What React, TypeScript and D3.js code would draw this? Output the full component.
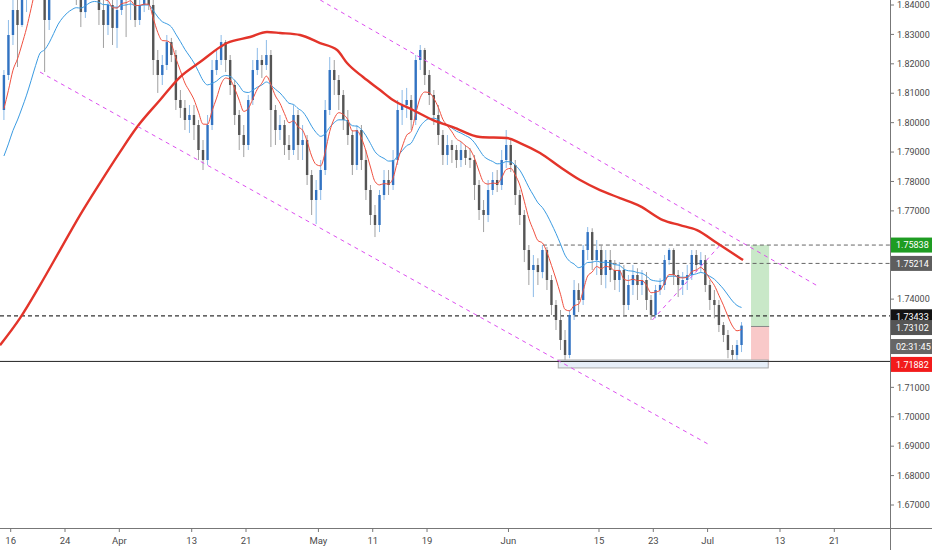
import React, { useMemo } from "react";
import * as d3 from "d3";

const width = 932;
const height = 550;
const plotRight = 890;
const plotBottom = 528;
const font = "Roboto, 'Liberation Sans', sans-serif";

// 12h bars, two per trading day; day 0 = Mar 16
const firstDay = -1;
const firstOpen = 1.8043;
const closes = [
  1.8162, 1.8298, 1.8383, 1.8332, 1.8417, 1.8485, 1.8587, 1.8655, 1.8621, 1.8349,
  1.8485, 1.8587, 1.8621, 1.8553, 1.8519, 1.8485, 1.8451, 1.8376, 1.8468, 1.8502,
  1.8451, 1.8383, 1.8332, 1.84, 1.8322, 1.8383, 1.8451, 1.8417, 1.8434, 1.8349,
  1.84, 1.8417, 1.84, 1.8213, 1.8162, 1.8196, 1.8274, 1.823, 1.8077, 1.805,
  1.8009, 1.8026, 1.7992, 1.7907, 1.7873, 1.7992, 1.8179, 1.8213, 1.8274, 1.8213,
  1.8128, 1.8026, 1.7958, 1.7924, 1.8077, 1.8179, 1.8213, 1.8196, 1.823, 1.8043,
  1.7975, 1.7992, 1.7924, 1.7907, 1.8026, 1.7924, 1.7941, 1.7822, 1.7737, 1.7771,
  1.7839, 1.8043, 1.8179, 1.8145, 1.8094, 1.8009, 1.7958, 1.7856, 1.7975, 1.7873,
  1.7771, 1.7686, 1.7652, 1.7754, 1.7805, 1.7788, 1.7873, 1.8043, 1.806, 1.8077,
  1.8009, 1.8213, 1.8247, 1.8162, 1.8094, 1.8026, 1.7958, 1.789, 1.7924, 1.7907,
  1.7873, 1.7907, 1.788, 1.7873, 1.7788, 1.7703, 1.7686, 1.7771, 1.7805, 1.7788,
  1.7873, 1.7924, 1.7856, 1.7754, 1.7686, 1.7567, 1.7499, 1.7516, 1.7492, 1.7567,
  1.7465, 1.738, 1.7329, 1.7261, 1.721, 1.7346, 1.7431, 1.7397, 1.7567, 1.7628,
  1.7533, 1.7567, 1.7482, 1.7533, 1.7499, 1.7465, 1.7499, 1.738, 1.7448, 1.7482,
  1.7448, 1.7465, 1.7397, 1.7346, 1.7431, 1.7448, 1.7533, 1.7567, 1.7482, 1.7448,
  1.7465, 1.7482, 1.755, 1.7516, 1.7533, 1.7448, 1.7397, 1.738, 1.7312, 1.7278,
  1.7227, 1.721, 1.7244, 1.731,
];
const highs = [
  1.8179, 1.8349, 1.8434, 1.8434, 1.8468, 1.8553, 1.8655, 1.8757, 1.8791, 1.8689,
  1.8553, 1.8655, 1.8723, 1.8689, 1.8621, 1.8587, 1.8553, 1.8485, 1.8536, 1.8587,
  1.8553, 1.8485, 1.8434, 1.8451, 1.8434, 1.8417, 1.8502, 1.8485, 1.8485, 1.8468,
  1.8451, 1.8468, 1.8451, 1.8417, 1.8247, 1.823, 1.8298, 1.8288, 1.8247, 1.8111,
  1.8077, 1.806, 1.806, 1.8009, 1.7941, 1.8026, 1.8213, 1.8247, 1.8298, 1.8281,
  1.823, 1.8145, 1.8043, 1.7992, 1.8094, 1.8213, 1.8254, 1.823, 1.8281, 1.8247,
  1.806, 1.8026, 1.8009, 1.7958, 1.806, 1.8043, 1.7992, 1.7958, 1.7839, 1.7805,
  1.7873, 1.8077, 1.8223, 1.8213, 1.8162, 1.8111, 1.8043, 1.7975, 1.7992, 1.7992,
  1.7907, 1.7788, 1.772, 1.7771, 1.7839, 1.7839, 1.7907, 1.8077, 1.8111, 1.8118,
  1.8094, 1.823, 1.8264, 1.8254, 1.8179, 1.8111, 1.806, 1.7975, 1.7958, 1.7941,
  1.7924, 1.7934, 1.7924, 1.7914, 1.789, 1.7805, 1.7737, 1.7805, 1.7832, 1.7839,
  1.7907, 1.7975, 1.7941, 1.7873, 1.7771, 1.7703, 1.7584, 1.755, 1.7539, 1.7584,
  1.7577, 1.7482, 1.7397, 1.7363, 1.7295, 1.7363, 1.7465, 1.7454, 1.7584, 1.7645,
  1.7641, 1.7601, 1.7584, 1.7567, 1.7567, 1.7533, 1.7526, 1.7516, 1.7482, 1.7516,
  1.7505, 1.7499, 1.7492, 1.7414, 1.7448, 1.7471, 1.755, 1.7573, 1.7573, 1.7499,
  1.7492, 1.7516, 1.7567, 1.7567, 1.756, 1.755, 1.7465, 1.7431, 1.7397, 1.7322,
  1.7295, 1.7244, 1.7261, 1.7322,
];
const lows = [
  1.8009, 1.8145, 1.8264, 1.8189, 1.8325, 1.8376, 1.8451, 1.8553, 1.8519, 1.8172,
  1.8315, 1.8451, 1.8519, 1.8485, 1.8451, 1.8434, 1.84, 1.8325, 1.8356, 1.8434,
  1.8417, 1.8332, 1.8254, 1.8298, 1.8264, 1.8254, 1.8366, 1.8291, 1.8349, 1.8325,
  1.8332, 1.8376, 1.8383, 1.8162, 1.8101, 1.8128, 1.8179, 1.8206, 1.8043, 1.8016,
  1.7975, 1.7965, 1.7941, 1.7873, 1.7839, 1.7856, 1.7975, 1.8162, 1.8196, 1.8172,
  1.8094, 1.7992, 1.7907, 1.7883, 1.7907, 1.806, 1.8162, 1.8152, 1.8179, 1.7917,
  1.7924, 1.7941, 1.789, 1.7873, 1.789, 1.7873, 1.7873, 1.7788, 1.7686, 1.7655,
  1.7737, 1.7822, 1.8026, 1.8094, 1.8043, 1.7975, 1.7924, 1.7822, 1.7839, 1.7839,
  1.7737, 1.7652, 1.7611, 1.7628, 1.7737, 1.7754, 1.7771, 1.7856, 1.7992, 1.8016,
  1.7975, 1.7992, 1.8179, 1.8128, 1.806, 1.7992, 1.7924, 1.7856, 1.7856, 1.7863,
  1.7846, 1.7849, 1.7856, 1.7846, 1.7737, 1.7669, 1.7628, 1.7662, 1.7754, 1.7764,
  1.7771, 1.7846, 1.7832, 1.772, 1.7652, 1.7526, 1.7448, 1.7407, 1.7448, 1.7471,
  1.7431, 1.7346, 1.7295, 1.7227, 1.7193, 1.7199, 1.7329, 1.7356, 1.738, 1.7533,
  1.7499, 1.7482, 1.7448, 1.7437, 1.7458, 1.7431, 1.7424, 1.7339, 1.7363, 1.7414,
  1.7397, 1.7414, 1.7363, 1.7329, 1.7335, 1.7414, 1.7431, 1.7516, 1.7448, 1.7407,
  1.7414, 1.7431, 1.7465, 1.7492, 1.7492, 1.7424, 1.7363, 1.7335, 1.7288, 1.7254,
  1.7199, 1.7193, 1.7193, 1.722,
];

// x axis (trading day index)
const dayTicks = [0, 6, 12, 20, 26, 34, 40, 46, 55, 65, 71, 77, 85, 91];
const dayTickLabels = ["16", "24", "Apr", "13", "21", "May", "11", "19", "Jun", "15", "23", "Jul", "13", "21"];
const priceTicks = d3.range(167, 185).map((v) => v / 100);

// slow moving average (it needs history before the first bar)
const ma200Days = [
  -1.18, 1.03, 3.24, 5.45, 7.66, 9.86, 12.07, 13.96, 16.5, 18.71, 20.92, 23.9, 26.45, 28.32, 29.76,
  31.97, 34.18, 36.06, 37.16, 38.93, 40.81, 42.24, 44.45, 46.66, 48.87, 51.86, 54.84, 56.28, 58.49,
  60.7, 62.91, 65.11, 67.32, 69.53, 72.07, 73.95, 75.83, 78.04, 80.92,
];
const ma200Values = [
  1.72435, 1.73354, 1.74476, 1.75667, 1.76857, 1.77946, 1.79, 1.7985, 1.80769, 1.81551, 1.82061,
  1.82707, 1.82912, 1.83082, 1.83048, 1.8298, 1.82707, 1.82469, 1.82027, 1.81551, 1.81109, 1.80769,
  1.80429, 1.80088, 1.7985, 1.7951, 1.79476, 1.79306, 1.78966, 1.7849, 1.78048, 1.77707, 1.77435,
  1.77163, 1.76687, 1.76517, 1.76347, 1.75905, 1.75327,
];

// exponential averages, seeded with their values at the left edge
const fastPeriod = 7;
const fastSeed = 1.8009;
const slowPeriod = 19;
const slowSeed = 1.7856;

// drawings
const resistanceTop = 1.75838;
const resistanceTopFrom = 58.8;
const resistanceMid = 1.75214;
const resistanceMidFrom = 66.5;
const entryLevel = 1.73433;
const lastPrice = 1.73102;
const supportLevel = 1.71882;
const countdown = "02:31:45";
const upperChannel = [[34.2, 1.8417], [89.2, 1.7444]];
const lowerChannel = [[3.24, 1.8172], [77.3, 1.6903]];
const innerTrend = [[70.9, 1.7329], [78.4, 1.7584]];
const baseBoxDays = [60.5, 83.7];
const baseBoxPrices = [1.7166, 1.7193];
const positionDays = [81.8, 83.8];
const positionEntry = 1.7307;
const positionTarget = 1.75838;
const positionStop = 1.7176;

const ema = (values: number[], period: number, seed: number) => {
  const k = 2 / (period + 1);
  let prev = seed;
  return values.map((v) => (prev = prev + k * (v - prev)));
};

export default function App() {
  const x = useMemo(() => d3.scaleLinear([0, 91], [10.7, 834.3]), []);
  const y = useMemo(() => d3.scaleLinear([1.67, 1.84], [505, 5]), []);

  const bars = useMemo(
    () =>
      closes.map((c, i) => {
        const o = i === 0 ? firstOpen : closes[i - 1];
        return {
          day: firstDay + Math.floor(i / 2) + 0.25 + 0.5 * (i % 2),
          o,
          c,
          h: Math.max(highs[i], o, c),
          l: Math.min(lows[i], o, c),
        };
      }),
    []
  );

  const line = d3
    .line<number[]>()
    .x((d) => x(d[0]))
    .y((d) => y(d[1]))
    .curve(d3.curveMonotoneX);

  const fast = ema(closes, fastPeriod, fastSeed).map((v, i) => [bars[i].day, v]);
  const slow = ema(closes, slowPeriod, slowSeed).map((v, i) => [bars[i].day, v]);
  const ma200 = ma200Days.map((d, i) => [d, ma200Values[i]]);

  const straight = (pts: number[][]) => `M${x(pts[0][0])},${y(pts[0][1])}L${x(pts[1][0])},${y(pts[1][1])}`;

  const labels = [
    { v: resistanceTop, text: resistanceTop.toFixed(5), bg: "#1e9c22", dy: 0 },
    { v: resistanceMid, text: resistanceMid.toFixed(5), bg: "#5e5e5e", dy: 0 },
    { v: entryLevel, text: entryLevel.toFixed(5), bg: "#131313", dy: 1 },
    { v: lastPrice, text: lastPrice.toFixed(5), bg: "#555555", dy: 2 },
    { v: lastPrice, text: countdown, bg: "#666666", dy: 21 },
    { v: supportLevel, text: supportLevel.toFixed(5), bg: "#f21b1b", dy: 3 },
  ];
  const labelY = labels.map((l) => y(l.v) + l.dy);
  const visibleTicks = priceTicks.filter((p) => labelY.every((ly) => Math.abs(ly - y(p)) > 12));

  return (
    <svg width={width} height={height} style={{ position: "absolute", left: 0, top: 0, background: "#fff" }}>
      <defs>
        <clipPath id="plot">
          <rect x={0} y={0} width={plotRight} height={plotBottom} />
        </clipPath>
      </defs>

      <g clipPath="url(#plot)">
        {/* position tool */}
        <rect
          x={x(positionDays[0])}
          width={x(positionDays[1]) - x(positionDays[0])}
          y={y(positionTarget)}
          height={y(positionEntry) - y(positionTarget)}
          fill="#c9e8c8"
        />
        <rect
          x={x(positionDays[0])}
          width={x(positionDays[1]) - x(positionDays[0])}
          y={y(positionEntry)}
          height={y(positionStop) - y(positionEntry)}
          fill="#f9c9c9"
        />
        <line x1={x(positionDays[0])} x2={x(positionDays[1])} y1={y(positionEntry)} y2={y(positionEntry)} stroke="#888" />

        {/* base box */}
        <rect
          x={x(baseBoxDays[0])}
          width={x(baseBoxDays[1]) - x(baseBoxDays[0])}
          y={y(baseBoxPrices[1])}
          height={y(baseBoxPrices[0]) - y(baseBoxPrices[1])}
          fill="#e6eef8"
          stroke="#a9a9a9"
        />

        {/* horizontal levels */}
        <line x1={x(resistanceTopFrom)} x2={plotRight} y1={y(resistanceTop)} y2={y(resistanceTop)} stroke="#666" strokeDasharray="4,3" />
        <line x1={x(resistanceMidFrom)} x2={plotRight} y1={y(resistanceMid)} y2={y(resistanceMid)} stroke="#666" strokeDasharray="4,3" />
        <line x1={0} x2={plotRight} y1={y(entryLevel)} y2={y(entryLevel)} stroke="#333" strokeWidth={1.3} strokeDasharray="4,3" />
        <line x1={0} x2={plotRight} y1={y(supportLevel)} y2={y(supportLevel)} stroke="#222" />

        {/* candles */}
        {bars.map((b, i) => {
          const up = b.c >= b.o;
          const cx = x(b.day);
          const top = y(Math.max(b.o, b.c));
          const bot = y(Math.min(b.o, b.c));
          return (
            <g key={i}>
              <line x1={cx} x2={cx} y1={y(b.h)} y2={y(b.l)} stroke={up ? "#8dbbe8" : "#a0a0a0"} />
              <rect x={cx - 1.2} width={2.4} y={top} height={Math.max(1, bot - top)} fill={up ? "#3273c2" : "#555555"} />
            </g>
          );
        })}

        {/* averages */}
        <path d={line(slow) || ""} fill="none" stroke="#3a9be2" strokeWidth={1} />
        <path d={line(fast) || ""} fill="none" stroke="#f0503f" strokeWidth={1} />
        <path d={line(ma200) || ""} fill="none" stroke="#e3342a" strokeWidth={2.4} />

        {/* channel */}
        <path d={straight(upperChannel)} stroke="#dd4ff0" strokeDasharray="4,4" fill="none" />
        <path d={straight(lowerChannel)} stroke="#dd4ff0" strokeDasharray="4,4" fill="none" />
        <path d={straight(innerTrend)} stroke="#dd4ff0" strokeDasharray="4,4" fill="none" />
      </g>

      {/* axes */}
      <line x1={plotRight + 0.5} x2={plotRight + 0.5} y1={0} y2={height} stroke="#777" />
      <line x1={0} x2={width} y1={plotBottom + 0.5} y2={plotBottom + 0.5} stroke="#777" />

      {priceTicks.map((p) => (
        <line key={p} x1={plotRight} x2={plotRight + 4} y1={y(p)} y2={y(p)} stroke="#777" />
      ))}
      {visibleTicks.map((p) => (
        <text key={p} x={plotRight + 7} y={y(p)} dy="0.35em" fontSize={9} fontFamily={font} fill="#4a4a4a">
          {p.toFixed(5)}
        </text>
      ))}

      {dayTicks.map((d, i) => (
        <g key={d} transform={`translate(${x(d)},${plotBottom})`}>
          <line y1={0} y2={4} stroke="#777" />
          <text y={16} textAnchor="middle" fontSize={9.5} fontFamily={font} fill="#4a4a4a">
            {dayTickLabels[i]}
          </text>
        </g>
      ))}

      {labels.map((l, i) => (
        <g key={i} transform={`translate(${plotRight + 1},${labelY[i]})`}>
          <rect x={0} y={-7.5} width={width - plotRight} height={15} fill={l.bg} />
          <text x={5} dy="0.35em" fontSize={9} fontFamily={font} fill="#fff">
            {l.text}
          </text>
        </g>
      ))}
    </svg>
  );
}
